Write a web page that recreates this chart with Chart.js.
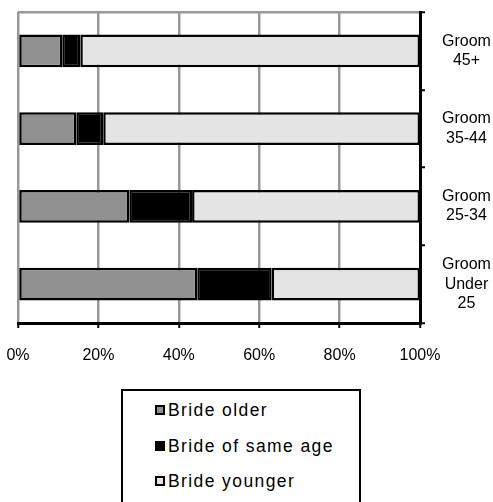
<!DOCTYPE html>
<html>
<head>
<meta charset="utf-8">
<script src="https://cdn.jsdelivr.net/npm/chart.js@4.4.0/dist/chart.umd.min.js"></script>
<style>
  body { margin: 0; background: #fff; font-family: "Liberation Sans", Arial, sans-serif; }
  #wrap { position: relative; width: 493px; height: 502px; overflow: hidden; }
  #legende {
    position: absolute; left: 121px; top: 389px; width: 236px; height: 140px;
    border: 2px solid #000; background: #fff;
  }
  .item { position: absolute; left: 32px; font-size: 17.5px; letter-spacing: 1.4px; color: #000; white-space: nowrap; }
  .carre { display: inline-block; width: 6px; height: 6px; border: 2px solid #000; margin-right: 3px; vertical-align: 1px; }
</style>
</head>
<body>
<div id="wrap">
  <canvas id="graphe" width="493" height="372"></canvas>
  <div id="legende"></div>
</div>
<script>
// categories (haut vers bas)
const categories = [["Groom", "45+"], ["Groom", "35-44"], ["Groom", "25-34"], ["Groom", "Under", "25"]]
// series en %
const brideOlder = [11, 14.5, 27.7, 44.6]
const brideSame = [4.5, 6.7, 15.6, 18.5]
const brideYounger = [84.5, 78.8, 56.7, 36.9]
const seriesNoms = ["Bride older", "Bride of same age", "Bride younger"]
const seriesCouleurs = ["#909090", "#000000", "#e4e4e4"]
const ticksX = [0, 20, 40, 60, 80, 100]

const valeurs = [brideOlder, brideSame, brideYounger]
const datasets = seriesNoms.map((nom, i) => ({
  label: nom,
  data: valeurs[i],
  backgroundColor: seriesCouleurs[i],
  borderColor: "#000",
  borderWidth: 2.5,
  borderSkipped: false,
  barPercentage: 0.42,
  categoryPercentage: 1
}))

const police = { family: "'Liberation Sans', Arial, sans-serif", size: 16, lineHeight: 1.2 }

// on enleve le padding auto des labels pour garder la zone du graphe
const sansPadding = (scale) => {
  scale.paddingTop = 0
  scale.paddingBottom = 0
  scale.paddingLeft = 0
  scale.paddingRight = 0
}

new Chart(document.getElementById("graphe"), {
  type: "bar",
  data: { labels: categories, datasets: datasets },
  options: {
    indexAxis: "y",
    responsive: false,
    animation: false,
    layout: { padding: { left: 18, right: 2, top: 12, bottom: 7 } },
    plugins: { legend: { display: false }, tooltip: { enabled: false } },
    scales: {
      x: {
        stacked: true,
        min: 0,
        max: 100,
        afterBuildTicks: (scale) => { scale.ticks = ticksX.map(v => ({ value: v })) },
        afterFit: (scale) => { sansPadding(scale); scale.height = 42 },
        ticks: { color: "#000", font: police, padding: 18, maxRotation: 0, callback: (v) => v + "%" },
        grid: { color: "#999", lineWidth: 2.5, tickColor: "#000", tickLength: 5, tickWidth: 2 },
        border: { color: "#000", width: 3 }
      },
      y: {
        stacked: true,
        position: "right",
        afterFit: (scale) => { sansPadding(scale); scale.width = 71 },
        ticks: { color: "#000", font: police, padding: 17, crossAlign: "center" },
        grid: {
          offset: true,
          drawOnChartArea: true,
          color: (ctx) => ctx.index === 0 ? "#999" : "rgba(0,0,0,0)",
          lineWidth: 2.5,
          tickColor: "#000",
          tickLength: 5,
          tickWidth: 2
        },
        border: { color: "#000", width: 3 }
      }
    }
  }
})

// legende HTML dans un cadre
const legende = document.getElementById("legende")
const lignesY = [9, 45, 80]
for (let i = 0; i < seriesNoms.length; i++) {
  let item = document.createElement("div")
  item.className = "item"
  item.style.top = lignesY[i] + "px"
  let carre = document.createElement("span")
  carre.className = "carre"
  carre.style.background = seriesCouleurs[i]
  item.appendChild(carre)
  item.appendChild(document.createTextNode(seriesNoms[i]))
  legende.appendChild(item)
}
</script>
</body>
</html>
